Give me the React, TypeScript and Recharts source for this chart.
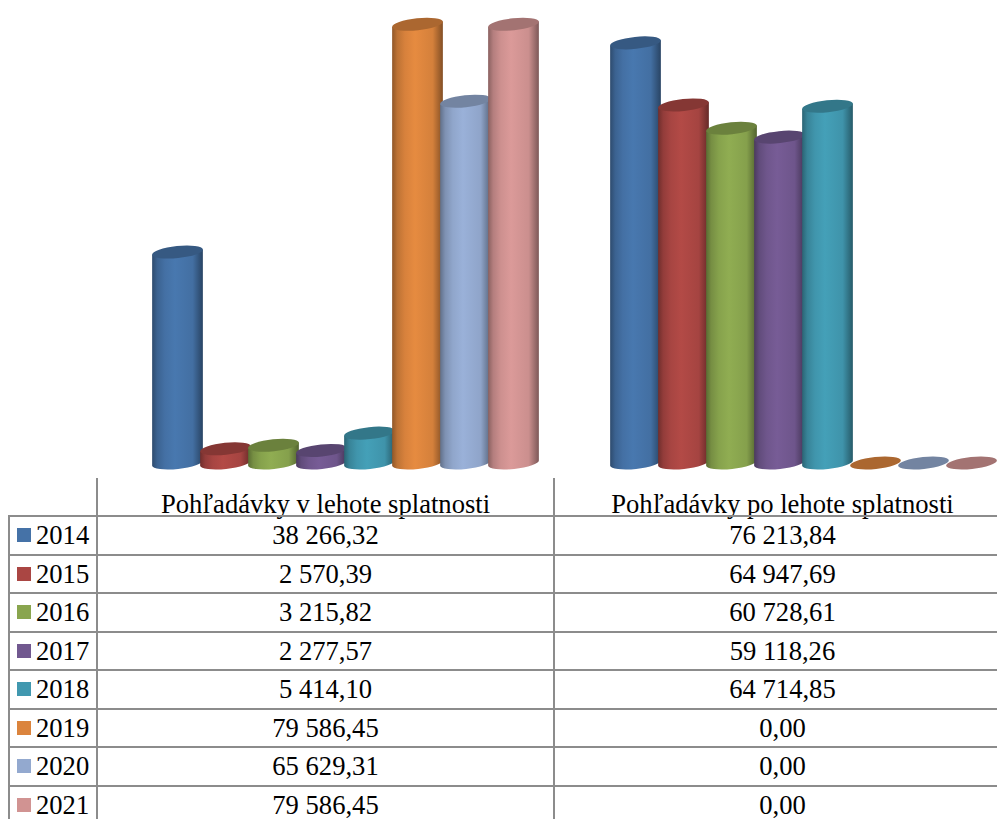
import { BarChart, Bar, XAxis, YAxis } from "recharts";

const categories = ["Pohľadávky v lehote splatnosti", "Pohľadávky po lehote splatnosti"];
const years = ["2014", "2015", "2016", "2017", "2018", "2019", "2020", "2021"];
const dueValues = [38266.32, 2570.39, 3215.82, 2277.57, 5414.1, 79586.45, 65629.31, 79586.45];
const overdueValues = [76213.84, 64947.69, 60728.61, 59118.26, 64714.85, 0, 0, 0];
const colors = ["#4572A7", "#AA4643", "#89A54E", "#71588F", "#4198AF", "#DB843D", "#93A9CF", "#D19392"];

const rowTops = [516, 555, 593, 632, 670, 709, 747, 786, 825];
const lineColor = "#8c8c8c";
const font = "'Liberation Serif', 'Times New Roman', serif";

const chartData = categories.map((name, c) => {
  const row: any = { name };
  years.forEach((y, i) => {
    row[y] = c === 0 ? dueValues[i] : overdueValues[i];
  });
  return row;
});

function shade(hex: string, f: number) {
  const n = parseInt(hex.slice(1), 16);
  const ch = (v: number) => Math.min(255, Math.round(v * f));
  return `rgb(${ch((n >> 16) & 255)},${ch((n >> 8) & 255)},${ch(n & 255)})`;
}

function fmt(v: number) {
  const [a, b] = v.toFixed(2).split(".");
  return a.replace(/\B(?=(\d{3})+$)/g, " ") + "," + b;
}

function Cylinder(props: any) {
  const { x, y, width, height, color, gid } = props;
  const rx = 25.5;
  const ry = 6;
  const tilt = -6;
  const cx = x + width / 2;
  const base = y + height;
  const dx = rx * Math.cos((tilt * Math.PI) / 180);
  const dy = rx * Math.sin((tilt * Math.PI) / 180);
  const topEllipse = (
    <ellipse
      cx={cx}
      cy={y}
      rx={rx}
      ry={ry}
      transform={`rotate(${tilt} ${cx} ${y})`}
      fill={shade(color, 0.78)}
    />
  );
  if (height < 1) return topEllipse;
  const body = `M${cx - dx} ${y - dy} L${cx - dx} ${base - dy} A${rx} ${ry} ${tilt} 0 0 ${cx + dx} ${base + dy} L${cx + dx} ${y + dy} Z`;
  return (
    <g>
      <path d={body} fill={`url(#${gid})`} />
      {topEllipse}
    </g>
  );
}

const cell: any = {
  position: "absolute",
  textAlign: "center",
  fontFamily: font,
  fontSize: 26.6,
  lineHeight: "36px",
  color: "#000",
  whiteSpace: "nowrap",
};

export default function App() {
  return (
    <div
      style={{
        position: "absolute",
        left: 0,
        top: 0,
        width: 997,
        height: 819,
        overflow: "hidden",
        background: "#fff",
      }}
    >
      <BarChart
        width={1100}
        height={480}
        data={chartData}
        margin={{ top: 22, right: 66.5, bottom: 17, left: 117.5 }}
        barGap={0}
        barCategoryGap={36}
      >
        <defs>
          {colors.map((c, i) => (
            <linearGradient id={`cyl${i}`} key={c} x1="0" y1="0" x2="1" y2="0">
              <stop offset="0" stopColor={shade(c, 0.66)} />
              <stop offset="0.1" stopColor={shade(c, 0.86)} />
              <stop offset="0.25" stopColor={shade(c, 0.98)} />
              <stop offset="0.45" stopColor={shade(c, 1.05)} />
              <stop offset="0.8" stopColor={shade(c, 0.97)} />
              <stop offset="1" stopColor={shade(c, 0.6)} />
            </linearGradient>
          ))}
        </defs>
        <XAxis dataKey="name" hide />
        <YAxis domain={[0, 80000]} hide />
        {years.map((y, i) => (
          <Bar
            key={y}
            dataKey={y}
            isAnimationActive={false}
            fill={colors[i]}
            shape={(p: any) => <Cylinder {...p} color={colors[i]} gid={`cyl${i}`} />}
          />
        ))}
      </BarChart>

      {/* data table under the chart */}
      <div style={{ position: "absolute", left: 96, top: 478, width: 2, height: 341, background: lineColor }} />
      <div style={{ position: "absolute", left: 553, top: 478, width: 2, height: 341, background: lineColor }} />
      <div style={{ position: "absolute", left: 8, top: 516, width: 2, height: 303, background: lineColor }} />
      {categories.map((c, i) => (
        <div key={c} style={{ ...cell, left: 97 + i * 457, width: 457, top: 486 }}>
          {c}
        </div>
      ))}
      {years.map((y, i) => (
        <div key={y}>
          <div
            style={{
              position: "absolute",
              left: 8,
              width: 989,
              top: rowTops[i] - 1,
              height: 2,
              background: lineColor,
            }}
          />
          <div
            style={{
              position: "absolute",
              left: 17,
              top: rowTops[i] + 12,
              width: 14,
              height: 14,
              background: colors[i],
            }}
          />
          <div style={{ ...cell, left: 36, top: rowTops[i] + 1 }}>{y}</div>
          <div style={{ ...cell, left: 97, width: 457, top: rowTops[i] + 1 }}>{fmt(dueValues[i])}</div>
          <div style={{ ...cell, left: 554, width: 457, top: rowTops[i] + 1 }}>{fmt(overdueValues[i])}</div>
        </div>
      ))}
    </div>
  );
}
